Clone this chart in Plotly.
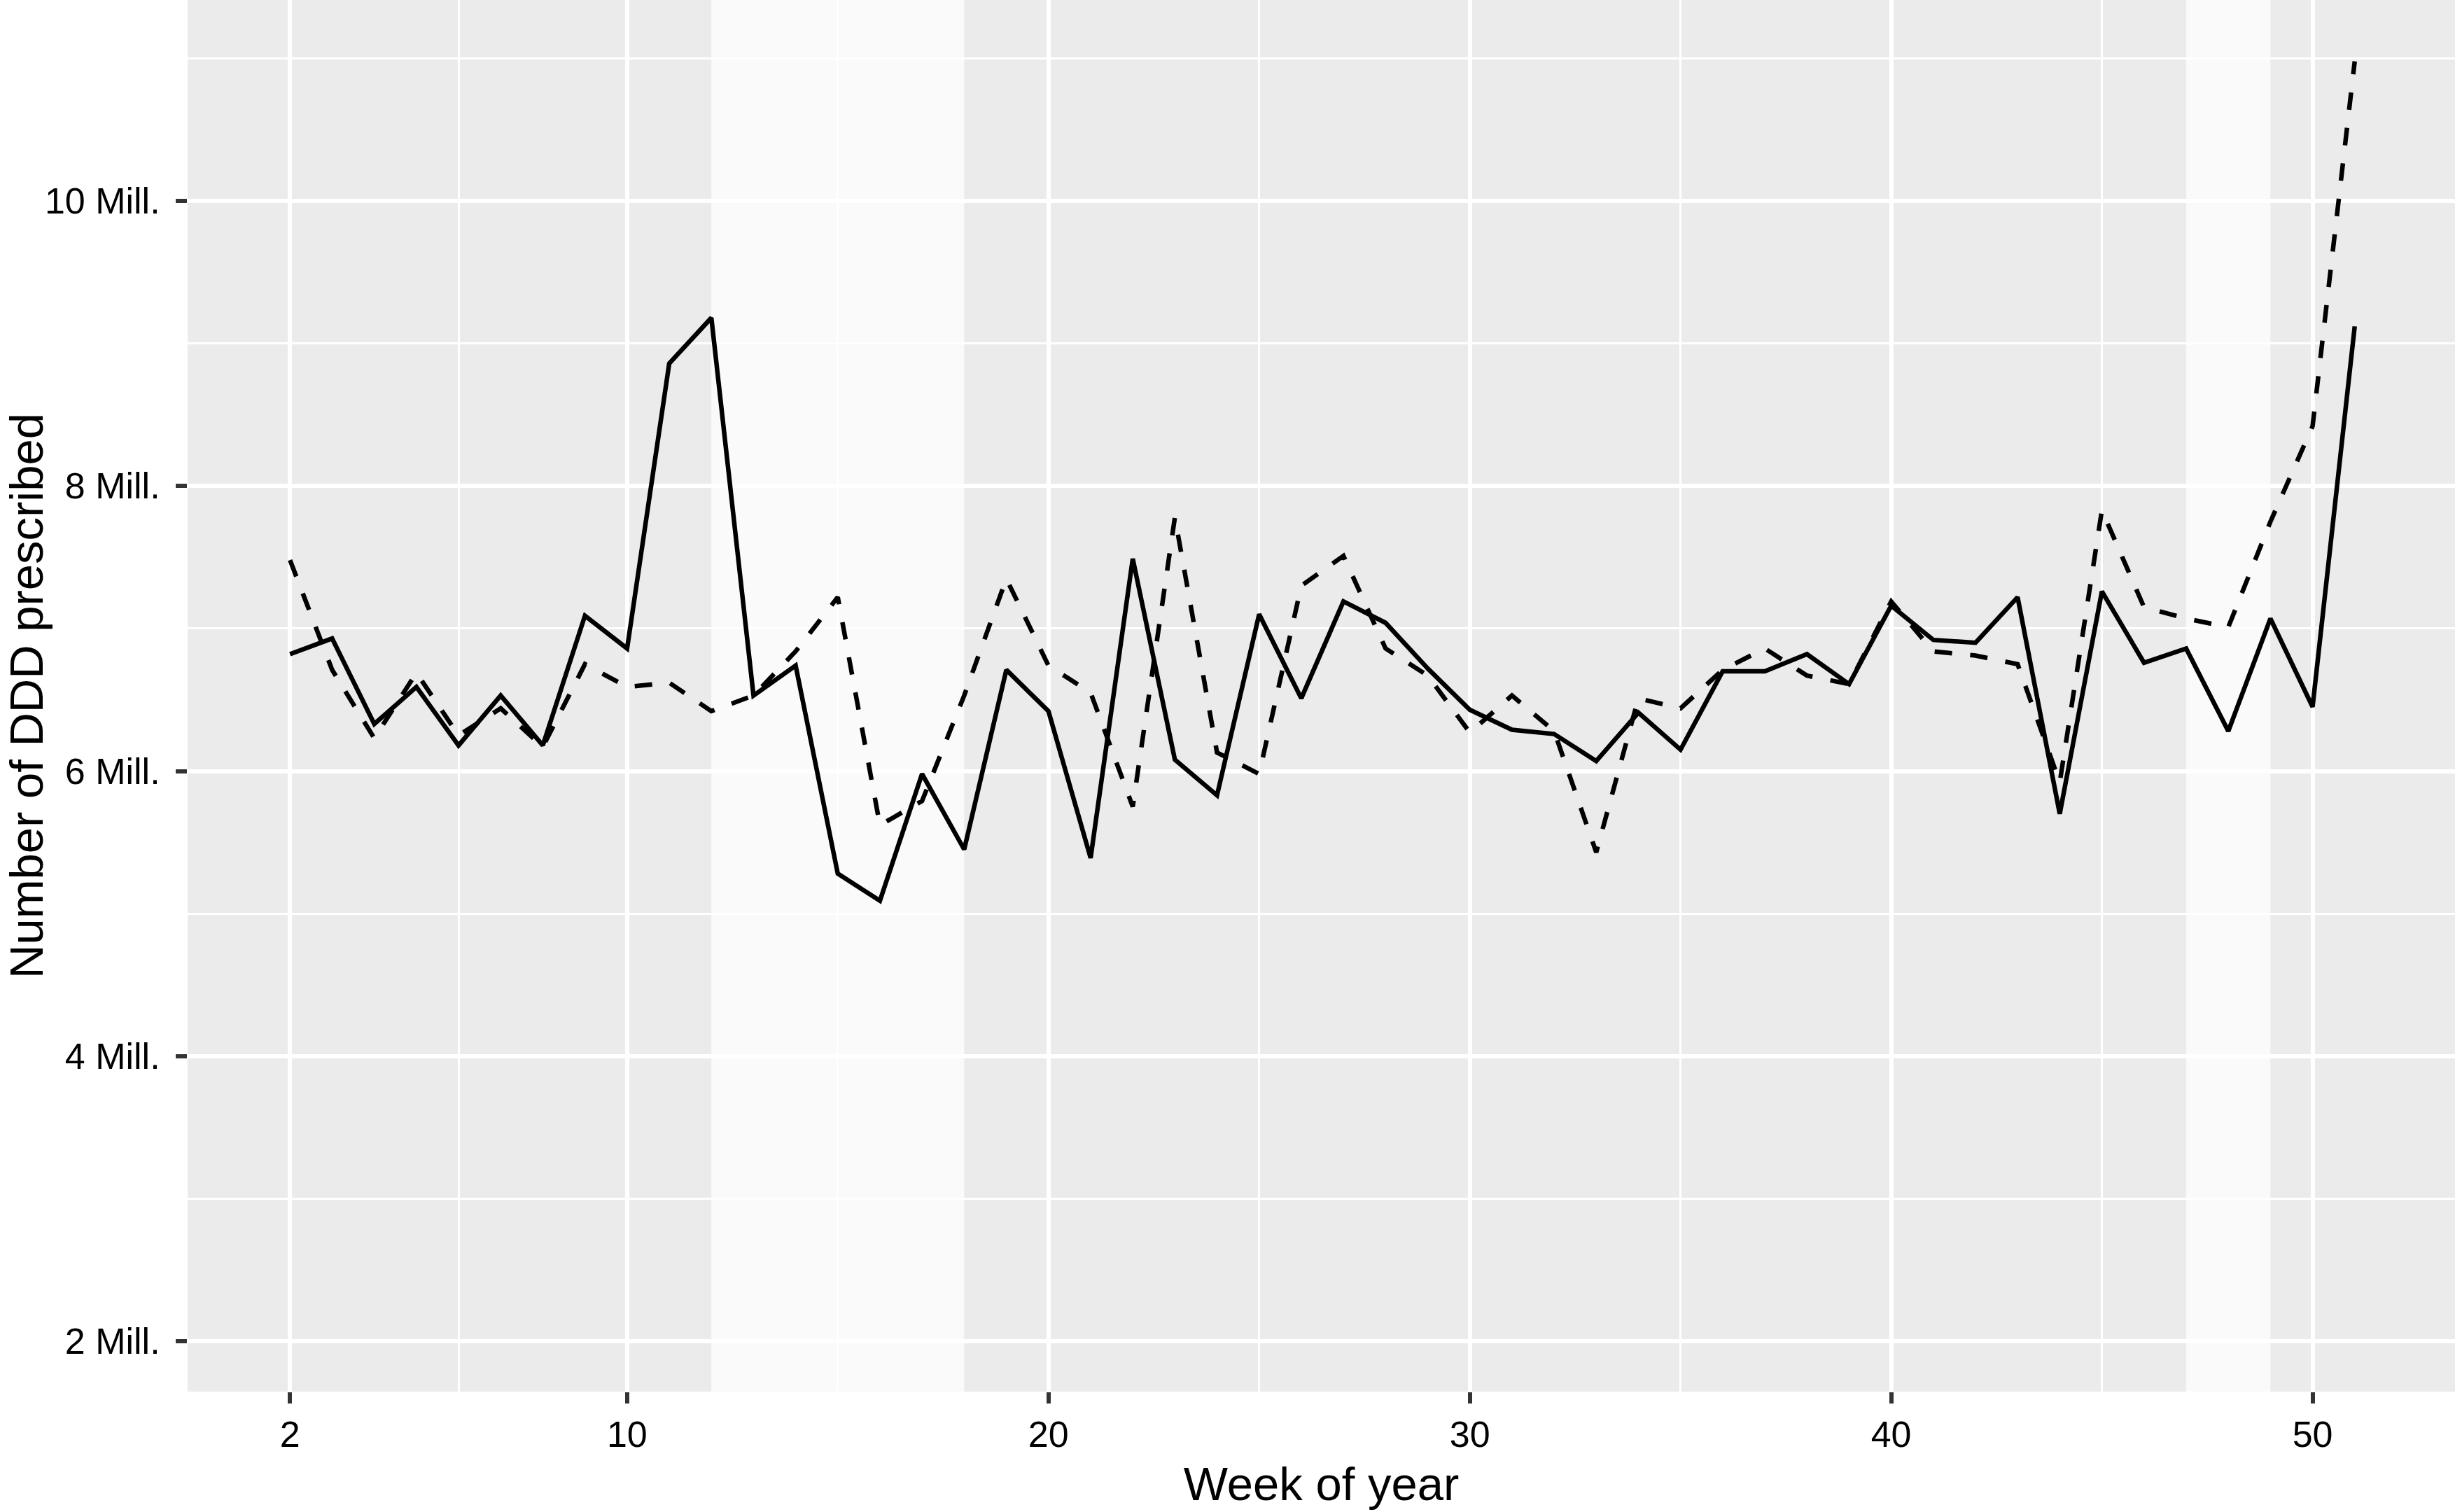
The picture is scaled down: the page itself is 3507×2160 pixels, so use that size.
import plotly.graph_objects as go

# weekly DDD prescribed, in millions
weeks = [2, 3, 4, 5, 6, 7, 8, 9, 10, 11, 12, 13, 14, 15, 16, 17, 18, 19, 20, 21,
         22, 23, 24, 25, 26, 27, 28, 29, 30, 31, 32, 33, 34, 35, 36, 37, 38, 39, 40, 41,
         42, 43, 44, 45, 46, 47, 48, 49, 50, 51]

ddd_solid = [6.82, 6.93, 6.33, 6.59, 6.18, 6.53, 6.18, 7.09, 6.86, 8.86,
             9.18, 6.53, 6.74, 5.28, 5.09, 5.98, 5.45, 6.71, 6.42, 5.39,
             7.49, 6.08, 5.83, 7.10, 6.51, 7.19, 7.04, 6.72, 6.43, 6.29,
             6.26, 6.07, 6.41, 6.15, 6.70, 6.70, 6.82, 6.61, 7.16, 6.92,
             6.90, 7.22, 5.70, 7.26, 6.76, 6.86, 6.28, 7.07, 6.45, 9.12]

ddd_dashed = [7.48, 6.71, 6.23, 6.69, 6.25, 6.44, 6.17, 6.75, 6.59, 6.62,
              6.42, 6.53, 6.84, 7.22, 5.62, 5.79, 6.53, 7.35, 6.74, 6.55,
              5.75, 7.78, 6.13, 5.98, 7.30, 7.51, 6.86, 6.67, 6.27, 6.53,
              6.28, 5.43, 6.51, 6.44, 6.71, 6.86, 6.67, 6.61, 7.19, 6.84,
              6.81, 6.75, 5.92, 7.83, 7.15, 7.07, 7.01, 7.75, 8.42, 10.98]

# shaded periods (week ranges)
shade_start = [12, 47]
shade_end = [18, 49]

x_ticks = [2, 10, 20, 30, 40, 50]
x_minor = [6, 15, 25, 35, 45]
y_ticks = [2, 4, 6, 8, 10]
y_ticktext = ["2 Mill.", "4 Mill.", "6 Mill.", "8 Mill.", "10 Mill."]
y_minor = [3, 5, 7, 9, 11]

FONT = "Liberation Sans, Arial, Helvetica, sans-serif"

fig = go.Figure()

fig.add_trace(go.Scatter(
    x=weeks, y=ddd_dashed, mode="lines",
    line=dict(color="black", width=6.5, dash="25px,26px"),
    hoverinfo="x+y",
))
fig.add_trace(go.Scatter(
    x=weeks, y=ddd_solid, mode="lines",
    line=dict(color="black", width=6.5),
    hoverinfo="x+y",
))

for x0, x1 in zip(shade_start, shade_end):
    fig.add_shape(
        type="rect", xref="x", yref="paper", x0=x0, x1=x1, y0=0, y1=1,
        fillcolor="#FAFAFA", line=dict(width=0), layer="between",
    )

axis_common = dict(
    showline=False,
    zeroline=False,
    showgrid=True,
    gridcolor="white",
    gridwidth=6,
    ticks="outside",
    ticklen=16,
    tickwidth=6,
    tickcolor="#333333",
    tickfont=dict(family=FONT, size=52, color="black"),
    automargin=False,
)

fig.update_layout(
    width=3507,
    height=2160,
    margin=dict(l=268, r=0, t=0, b=172),
    paper_bgcolor="white",
    plot_bgcolor="#EBEBEB",
    showlegend=False,
    font=dict(family=FONT, color="black"),
    xaxis=dict(
        **axis_common,
        range=[-0.43, 53.38],
        tickmode="array",
        tickvals=x_ticks,
        minor=dict(tickmode="array", tickvals=x_minor, showgrid=True,
                   gridcolor="white", gridwidth=3, ticks=""),
        title=dict(text="Week of year", font=dict(family=FONT, size=67),
                   standoff=18),
    ),
    yaxis=dict(
        **axis_common,
        range=[1.646, 11.41],
        tickmode="array",
        tickvals=y_ticks,
        ticktext=y_ticktext,
        ticklabelstandoff=12,
        minor=dict(tickmode="array", tickvals=y_minor, showgrid=True,
                   gridcolor="white", gridwidth=3, ticks=""),
        title=dict(text="Number of DDD prescribed", font=dict(family=FONT, size=67),
                   standoff=2),
    ),
)

# drop the browser's default body margin so the figure sits at the page corner
fig.write_html("out.html", config={"displayModeBar": False},
               post_script="document.body.style.margin='0';")
